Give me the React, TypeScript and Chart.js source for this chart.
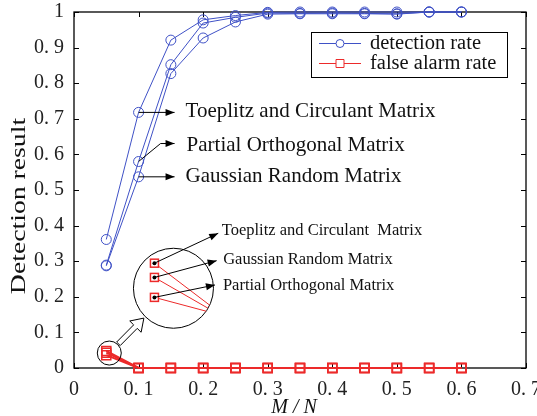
import { useEffect, useRef } from 'react';
import { Chart, registerables } from 'chart.js';

Chart.register(...registerables);

// Sampling ratio M/N
const mnRatio = [0.05, 0.1, 0.15, 0.2, 0.25, 0.3, 0.35, 0.4, 0.45, 0.5, 0.55, 0.6];

// Detection rate per measurement matrix
const detToeplitz = [0.361, 0.718, 0.921, 0.978, 0.99, 0.999, 1, 1, 1, 1, 1, 1];
const detPartial = [0.289, 0.58, 0.852, 0.969, 0.985, 0.997, 0.996, 0.997, 0.996, 0.995, 1, 1];
const detGaussian = [0.287, 0.537, 0.827, 0.927, 0.972, 0.994, 0.995, 0.995, 0.995, 0.994, 1, 1];

// False alarm rate per measurement matrix
const faToeplitz = [0.048, 0, 0, 0, 0, 0, 0, 0, 0, 0, 0, 0];
const faGaussian = [0.043, 0, 0, 0, 0, 0, 0, 0, 0, 0, 0, 0];
const faPartial = [0.036, 0, 0, 0, 0, 0, 0, 0, 0, 0, 0, 0];

const xTicks = [0, 0.1, 0.2, 0.3, 0.4, 0.5, 0.6, 0.7];
const xTickLabels = ['0', '0. 1', '0. 2', '0. 3', '0. 4', '0. 5', '0. 6', '0. 7'];
const yTicks = [0, 0.1, 0.2, 0.3, 0.4, 0.5, 0.6, 0.7, 0.8, 0.9, 1];
const yTickLabels = ['0', '0. 1', '0. 2', '0. 3', '0. 4', '0. 5', '0. 6', '0. 7', '0. 8', '0. 9', '1'];

const BLUE = '#3f51c6';
const RED = '#ec2a2a';
const SERIF = "'Liberation Serif', 'Times New Roman', serif";

const pts = (ys: number[]) => mnRatio.map((x, i) => ({ x, y: ys[i] }));

function arrowLine(ctx: CanvasRenderingContext2D, path: number[][], head = 9, half = 3.5) {
  ctx.beginPath();
  ctx.moveTo(path[0][0], path[0][1]);
  for (let i = 1; i < path.length; i++) ctx.lineTo(path[i][0], path[i][1]);
  ctx.stroke();
  const [ax, ay] = path[path.length - 2];
  const [bx, by] = path[path.length - 1];
  const len = Math.hypot(bx - ax, by - ay);
  const ux = (bx - ax) / len;
  const uy = (by - ay) / len;
  ctx.beginPath();
  ctx.moveTo(bx, by);
  ctx.lineTo(bx - ux * head - uy * half, by - uy * head + ux * half);
  ctx.lineTo(bx - ux * head + uy * half, by - uy * head - ux * half);
  ctx.closePath();
  ctx.fill();
}

const framePlugin = {
  id: 'frame',
  beforeDatasetsDraw(chart: any) {
    const ctx: CanvasRenderingContext2D = chart.ctx;
    const { left, right, top, bottom } = chart.chartArea;
    const xs = chart.scales.x;
    const ys = chart.scales.y;
    ctx.save();
    ctx.strokeStyle = '#000';
    ctx.lineWidth = 1.3;
    ctx.strokeRect(left, top, right - left, bottom - top);
    ctx.lineWidth = 1;
    ctx.beginPath();
    xTicks.forEach((v) => {
      const px = Math.round(xs.getPixelForValue(v)) + 0.5;
      ctx.moveTo(px, bottom);
      ctx.lineTo(px, bottom - 5);
      ctx.moveTo(px, top);
      ctx.lineTo(px, top + 5);
    });
    yTicks.forEach((v) => {
      const py = Math.round(ys.getPixelForValue(v)) + 0.5;
      ctx.moveTo(left, py);
      ctx.lineTo(left + 5, py);
      ctx.moveTo(right, py);
      ctx.lineTo(right - 5, py);
    });
    ctx.stroke();

    // Axis titles
    ctx.fillStyle = '#111';
    ctx.font = `italic 20px ${SERIF}`;
    ctx.textAlign = 'center';
    ctx.textBaseline = 'alphabetic';
    ctx.fillText('M / N', (left + right) / 2 - 6, 413);

    ctx.save();
    ctx.translate(25, 206);
    ctx.rotate(-Math.PI / 2);
    ctx.scale(1.26, 1);
    ctx.font = `22px ${SERIF}`;
    ctx.fillText('Detection result', 0, 0);
    ctx.restore();
    ctx.restore();
  },
};

const notePlugin = {
  id: 'notes',
  afterDatasetsDraw(chart: any) {
    const ctx: CanvasRenderingContext2D = chart.ctx;
    const { right, top } = chart.chartArea;
    const xs = chart.scales.x;
    const ys = chart.scales.y;
    ctx.save();
    ctx.strokeStyle = '#000';
    ctx.fillStyle = '#000';
    ctx.lineWidth = 1;

    // Labels for the detection curves at M/N = 0.1
    const px = xs.getPixelForValue(mnRatio[1]);
    const tY = ys.getPixelForValue(detToeplitz[1]);
    const pY = ys.getPixelForValue(detPartial[1]);
    const gY = ys.getPixelForValue(detGaussian[1]);
    const tipX = px + 36;
    arrowLine(ctx, [[px, tY], [tipX, tY]]);
    arrowLine(ctx, [[px, pY], [px + 22, pY - 18], [tipX, pY - 18]]);
    arrowLine(ctx, [[px, gY], [tipX, gY]]);
    ctx.font = `21px ${SERIF}`;
    ctx.textAlign = 'left';
    ctx.textBaseline = 'middle';
    ctx.fillStyle = '#111';
    ctx.fillText('Toeplitz and Circulant Matrix', tipX + 11, tY - 1);
    ctx.fillText('Partial Orthogonal Matrix', tipX + 12, pY - 16);
    ctx.fillText('Gaussian Random Matrix', tipX + 11, gY);

    // Magnifier for the false alarm points at M/N = 0.05
    const sx = xs.getPixelForValue(mnRatio[0]) + 3;
    const sy = ys.getPixelForValue(0.042);
    const sr = 12;
    const bx = xs.getPixelForValue(0.154);
    const by = ys.getPixelForValue(0.224);
    const br = 40;
    ctx.strokeStyle = '#000';
    ctx.lineWidth = 1;
    ctx.beginPath();
    ctx.arc(sx, sy, sr, 0, Math.PI * 2);
    ctx.stroke();
    ctx.beginPath();
    ctx.arc(bx, by, br, 0, Math.PI * 2);
    ctx.stroke();

    // Hollow arrow from the small circle to the large one
    {
      const dx = bx - sx;
      const dy = by - sy;
      const d = Math.hypot(dx, dy);
      const ux = dx / d;
      const uy = dy / d;
      const nx = -uy;
      const ny = ux;
      const t0x = sx + ux * (sr + 1);
      const t0y = sy + uy * (sr + 1);
      const L = d - sr - br - 3;
      const hl = 12;
      const sw = 2.5;
      const hw = 8;
      const nkx = t0x + ux * (L - hl);
      const nky = t0y + uy * (L - hl);
      ctx.beginPath();
      ctx.moveTo(t0x + nx * sw, t0y + ny * sw);
      ctx.lineTo(nkx + nx * sw, nky + ny * sw);
      ctx.lineTo(nkx + nx * hw, nky + ny * hw);
      ctx.lineTo(t0x + ux * L, t0y + uy * L);
      ctx.lineTo(nkx - nx * hw, nky - ny * hw);
      ctx.lineTo(nkx - nx * sw, nky - ny * sw);
      ctx.lineTo(t0x - nx * sw, t0y - ny * sw);
      ctx.closePath();
      ctx.fillStyle = '#fff';
      ctx.fill();
      ctx.stroke();
    }

    // Magnified false alarm values with their labels
    const magRef = 0.0392;
    const magScale = 2850;
    const mags = [
      { v: faToeplitz[0], ang: 25, tip: [44.8, -55], dy: -2.6, dx: 3.5, label: 'Toeplitz and Circulant  Matrix' },
      { v: faGaussian[0], ang: 30, tip: [43.2, -27.6], dy: -0.7, dx: 6.5, label: 'Gaussian Random Matrix' },
      { v: faPartial[0], ang: 35, tip: [41.5, -3.3], dy: 0.7, dx: 8, label: 'Partial Orthogonal Matrix' },
    ];
    const mx = bx - 19;
    mags.forEach((m) => {
      const my = by + (magRef - m.v) * magScale;
      const a = (m.ang * Math.PI) / 180;
      ctx.strokeStyle = RED;
      ctx.lineWidth = 1;
      ctx.beginPath();
      ctx.moveTo(mx, my);
      ctx.lineTo(bx + br * Math.cos(a), by + br * Math.sin(a));
      ctx.stroke();
    });
    mags.forEach((m) => {
      const my = by + (magRef - m.v) * magScale;
      ctx.fillStyle = '#fff';
      ctx.strokeStyle = RED;
      ctx.lineWidth = 1.5;
      ctx.fillRect(mx - 4, my - 4, 8, 8);
      ctx.strokeRect(mx - 4, my - 4, 8, 8);
      ctx.strokeStyle = '#000';
      ctx.fillStyle = '#000';
      ctx.lineWidth = 1;
      arrowLine(ctx, [[mx, my], [bx + m.tip[0], by + m.tip[1]]], 9, 3.5);
      ctx.beginPath();
      ctx.arc(mx, my, 2, 0, Math.PI * 2);
      ctx.fill();
      ctx.font = `16.5px ${SERIF}`;
      ctx.textAlign = 'left';
      ctx.textBaseline = 'middle';
      ctx.fillStyle = '#111';
      ctx.fillText(m.label, bx + m.tip[0] + m.dx, by + m.tip[1] + m.dy);
    });

    // Legend
    const lx = right - 215;
    const ly = top + 20;
    ctx.fillStyle = '#fff';
    ctx.fillRect(lx, ly, 196, 45);
    ctx.strokeStyle = '#000';
    ctx.lineWidth = 1;
    ctx.strokeRect(lx + 0.5, ly + 0.5, 196, 45);
    const rows = [
      { y: ly + 11.5, color: BLUE, text: 'detection rate', circle: true },
      { y: ly + 31.5, color: RED, text: 'false alarm rate', circle: false },
    ];
    rows.forEach((r) => {
      ctx.strokeStyle = r.color;
      ctx.lineWidth = 1;
      ctx.beginPath();
      ctx.moveTo(lx + 8, r.y);
      ctx.lineTo(lx + 50, r.y);
      ctx.stroke();
      ctx.beginPath();
      if (r.circle) ctx.arc(lx + 29, r.y, 4, 0, Math.PI * 2);
      else ctx.rect(lx + 25, r.y - 4, 8, 8);
      ctx.fillStyle = '#fff';
      ctx.fill();
      ctx.stroke();
      ctx.fillStyle = '#111';
      ctx.font = `20.5px ${SERIF}`;
      ctx.textAlign = 'left';
      ctx.textBaseline = 'middle';
      ctx.fillText(r.text, lx + 59, r.y);
    });
    ctx.restore();
  },
};

export default function App() {
  const ref = useRef<HTMLCanvasElement>(null);

  useEffect(() => {
    document.body.style.margin = '0';
    const canvas = ref.current;
    if (!canvas) return;

    const blue = (label: string, ys: number[]) => ({
      label,
      data: pts(ys),
      borderColor: BLUE,
      borderWidth: 1,
      pointStyle: 'circle',
      pointRadius: 5,
      pointBorderWidth: 1,
      pointBorderColor: BLUE,
      pointBackgroundColor: 'rgba(0,0,0,0)',
      clip: false,
    });
    const red = (label: string, ys: number[]) => ({
      label,
      data: pts(ys),
      borderColor: RED,
      borderWidth: 2,
      pointStyle: 'rect',
      pointRadius: 6.4,
      pointBorderWidth: 1.5,
      pointBorderColor: RED,
      pointBackgroundColor: 'rgba(0,0,0,0)',
      clip: false,
    });

    const chart = new Chart(canvas, {
      type: 'line',
      data: {
        datasets: [
          blue('Toeplitz and Circulant Matrix', detToeplitz),
          blue('Partial Orthogonal Matrix', detPartial),
          blue('Gaussian Random Matrix', detGaussian),
          red('Toeplitz and Circulant Matrix', faToeplitz),
          red('Gaussian Random Matrix', faGaussian),
          red('Partial Orthogonal Matrix', faPartial),
        ] as any,
      },
      options: {
        animation: false,
        responsive: false,
        events: [],
        layout: { padding: { top: 12, right: 11, left: 0, bottom: 0 } },
        plugins: { legend: { display: false }, tooltip: { enabled: false } },
        scales: {
          x: {
            type: 'linear',
            min: 0,
            max: 0.7,
            afterBuildTicks: (s: any) => {
              s.ticks = xTicks.map((value) => ({ value }));
            },
            afterFit: (s: any) => {
              s.height = 48;
              s.paddingLeft = 0;
              s.paddingRight = 0;
            },
            grid: { display: false, drawTicks: false },
            border: { display: false },
            ticks: {
              callback: (_v: any, i: number) => xTickLabels[i],
              font: { family: SERIF, size: 20 },
              color: '#222',
              padding: 10,
              maxRotation: 0,
              autoSkip: false,
            },
          },
          y: {
            type: 'linear',
            min: 0,
            max: 1,
            afterBuildTicks: (s: any) => {
              s.ticks = yTicks.map((value) => ({ value }));
            },
            afterFit: (s: any) => {
              s.width = 74;
              s.paddingTop = 0;
              s.paddingBottom = 0;
            },
            grid: { display: false, drawTicks: false },
            border: { display: false },
            ticks: {
              callback: (_v: any, i: number) => yTickLabels[i],
              font: { family: SERIF, size: 20 },
              color: '#222',
              padding: 10,
              autoSkip: false,
            },
          },
        },
      } as any,
      plugins: [framePlugin, notePlugin],
    });

    return () => chart.destroy();
  }, []);

  return (
    <div style={{ width: 537, height: 416 }}>
      <canvas ref={ref} width={537} height={416} style={{ display: 'block' }} />
    </div>
  );
}
